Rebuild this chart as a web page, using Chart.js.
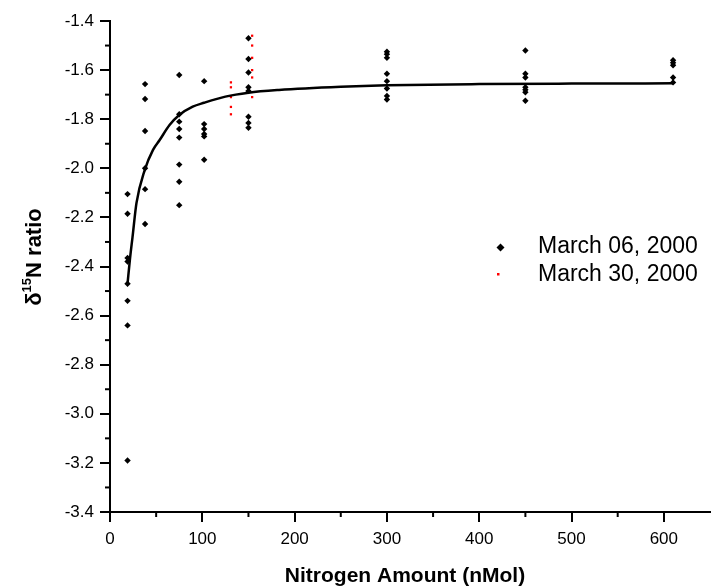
<!DOCTYPE html>
<html>
<head>
<meta charset="utf-8">
<script src="https://cdn.jsdelivr.net/npm/chart.js@4/dist/chart.umd.min.js"></script>
<style>
  html, body { margin: 0; padding: 0; background: #fff; }
  #wrap { width: 714px; height: 588px; }
</style>
</head>
<body>
<div id="wrap"><canvas id="chart" width="714" height="588"></canvas></div>
<script>
// March 06, 2000 samples (x = nitrogen amount, y = d15N)
const march06Amount = [
  19, 19, 19, 19, 19, 19, 19, 19,
  38, 38, 38, 38, 38, 38,
  75, 75, 75, 75, 75, 75, 75, 75,
  102, 102, 102, 102, 102, 102,
  150, 150, 150, 150, 150, 150, 150, 150,
  300, 300, 300, 300, 300, 300, 300, 300,
  450, 450, 450, 450, 450, 450, 450,
  610, 610, 610, 610, 610
];
const march06Ratio = [
  -2.105, -2.185, -2.365, -2.38, -2.47, -2.54, -2.64, -3.19,
  -1.657, -1.718, -1.848, -2.0, -2.085, -2.227,
  -1.62, -1.78, -1.81, -1.84, -1.875, -1.985, -2.055, -2.15,
  -1.645, -1.82, -1.84, -1.86, -1.87, -1.965,
  -1.47, -1.555, -1.61, -1.67, -1.685, -1.79, -1.815, -1.835,
  -1.525, -1.535, -1.55, -1.615, -1.645, -1.675, -1.705, -1.72,
  -1.52, -1.615, -1.63, -1.67, -1.68, -1.69, -1.725,
  -1.56, -1.57, -1.58, -1.63, -1.65
];

// March 30, 2000 samples
const march30Amount = [131, 131, 131, 131, 131, 154, 154, 154, 154, 154, 154];
const march30Ratio = [-1.65, -1.67, -1.71, -1.75, -1.78, -1.46, -1.50, -1.55, -1.60, -1.63, -1.71];

// fitted curve
const fitAmount = [19, 21.5, 24.4, 28.7, 37.6, 46.6, 53.8, 64.5, 75, 89.6, 102, 125, 150, 183, 250, 300, 400, 500, 610];
const fitRatio = [-2.47, -2.374, -2.28, -2.141, -2.007, -1.925, -1.885, -1.824, -1.783, -1.749, -1.733, -1.708, -1.692, -1.681, -1.668, -1.662, -1.657, -1.655, -1.654];

const legendLabels = ['March 06, 2000', 'March 30, 2000'];
const xMajorTicks = [0, 100, 200, 300, 400, 500, 600];
const yMajorTicks = [-3.4, -3.2, -3.0, -2.8, -2.6, -2.4, -2.2, -2.0, -1.8, -1.6, -1.4];

function toPoints(xs, ys) {
  return xs.map((x, i) => ({ x: x, y: ys[i] }));
}

const FONT = '"Liberation Sans", Arial, sans-serif';

// minor ticks, axis titles and the in-plot legend
const decorPlugin = {
  id: 'decor',
  afterDraw(chart) {
    const ctx = chart.ctx;
    const xs = chart.scales.x;
    const ys = chart.scales.y;
    const area = chart.chartArea;
    ctx.save();
    ctx.strokeStyle = '#000';
    ctx.lineWidth = 2;

    // minor ticks
    for (let v = 50; v < 650; v += 100) {
      const px = xs.getPixelForValue(v);
      ctx.beginPath();
      ctx.moveTo(px, area.bottom);
      ctx.lineTo(px, area.bottom + 5);
      ctx.stroke();
    }
    for (let i = 0; i < yMajorTicks.length - 1; i++) {
      const v = (yMajorTicks[i] + yMajorTicks[i + 1]) / 2;
      const py = ys.getPixelForValue(v);
      ctx.beginPath();
      ctx.moveTo(area.left, py);
      ctx.lineTo(area.left - 5, py);
      ctx.stroke();
    }

    // x title
    ctx.fillStyle = '#000';
    ctx.font = 'bold 21px ' + FONT;
    ctx.textAlign = 'center';
    ctx.textBaseline = 'middle';
    ctx.fillText('Nitrogen Amount (nMol)', 405, 576);

    // y title with superscript
    ctx.save();
    ctx.translate(33, 257);
    ctx.rotate(-Math.PI / 2);
    const partA = '\u03B4';
    const partSup = '15';
    const partB = 'N ratio';
    ctx.font = 'bold 22px ' + FONT;
    const wA = ctx.measureText(partA).width;
    const wB = ctx.measureText(partB).width;
    ctx.font = 'bold 13px ' + FONT;
    const wS = ctx.measureText(partSup).width;
    let x0 = -(wA + wS + wB) / 2;
    ctx.textAlign = 'left';
    ctx.textBaseline = 'alphabetic';
    ctx.font = 'bold 22px ' + FONT;
    ctx.fillText(partA, x0, 8);
    ctx.font = 'bold 13px ' + FONT;
    ctx.fillText(partSup, x0 + wA, -2);
    ctx.font = 'bold 22px ' + FONT;
    ctx.fillText(partB, x0 + wA + wS, 8);
    ctx.restore();

    // legend
    ctx.fillStyle = '#000';
    ctx.beginPath();
    ctx.moveTo(500.5, 243.5);
    ctx.lineTo(504.5, 247.5);
    ctx.lineTo(500.5, 251.5);
    ctx.lineTo(496.5, 247.5);
    ctx.closePath();
    ctx.fill();
    ctx.fillStyle = '#ff0000';
    ctx.fillRect(497, 273, 2.5, 2.5);
    ctx.fillStyle = '#000';
    ctx.font = '23px ' + FONT;
    ctx.textAlign = 'left';
    ctx.textBaseline = 'middle';
    ctx.fillText(legendLabels[0], 538, 247);
    ctx.fillText(legendLabels[1], 538, 275);
    ctx.restore();
  }
};

new Chart(document.getElementById('chart'), {
  type: 'scatter',
  data: {
    datasets: [
      {
        label: 'fit',
        data: toPoints(fitAmount, fitRatio),
        showLine: true,
        borderColor: '#000',
        borderWidth: 2.5,
        pointRadius: 0,
        cubicInterpolationMode: 'monotone',
        fill: false
      },
      {
        label: legendLabels[0],
        data: toPoints(march06Amount, march06Ratio),
        pointStyle: 'rectRot',
        pointRadius: 3.2,
        backgroundColor: '#000',
        borderColor: '#000',
        borderWidth: 0
      },
      {
        label: legendLabels[1],
        data: toPoints(march30Amount, march30Ratio),
        pointStyle: 'rect',
        pointRadius: 1.6,
        backgroundColor: '#ff0000',
        borderColor: '#ff0000',
        borderWidth: 0
      }
    ]
  },
  options: {
    responsive: false,
    animation: false,
    layout: { padding: { top: 21, right: 0, left: 0, bottom: 0 } },
    plugins: {
      legend: { display: false },
      tooltip: { enabled: false }
    },
    scales: {
      x: {
        type: 'linear',
        min: 0,
        max: 650,
        afterBuildTicks(scale) {
          scale.ticks = xMajorTicks.map(v => ({ value: v }));
        },
        afterFit(scale) { scale.height = 76; },
        border: { display: true, color: '#000', width: 2 },
        grid: { drawOnChartArea: false, drawTicks: true, tickLength: 10, color: '#000', lineWidth: 2 },
        ticks: {
          color: '#000',
          padding: 7,
          maxRotation: 0,
          font: { family: FONT, size: 17 }
        }
      },
      y: {
        type: 'linear',
        min: -3.4,
        max: -1.4,
        afterBuildTicks(scale) {
          scale.ticks = yMajorTicks.map(v => ({ value: v }));
        },
        afterFit(scale) { scale.width = 110; },
        border: { display: true, color: '#000', width: 2 },
        grid: { drawOnChartArea: false, drawTicks: true, tickLength: 10, color: '#000', lineWidth: 2 },
        ticks: {
          color: '#000',
          padding: 6,
          font: { family: FONT, size: 17 },
          callback: v => v.toFixed(1)
        }
      }
    }
  },
  plugins: [decorPlugin]
});
</script>
</body>
</html>
